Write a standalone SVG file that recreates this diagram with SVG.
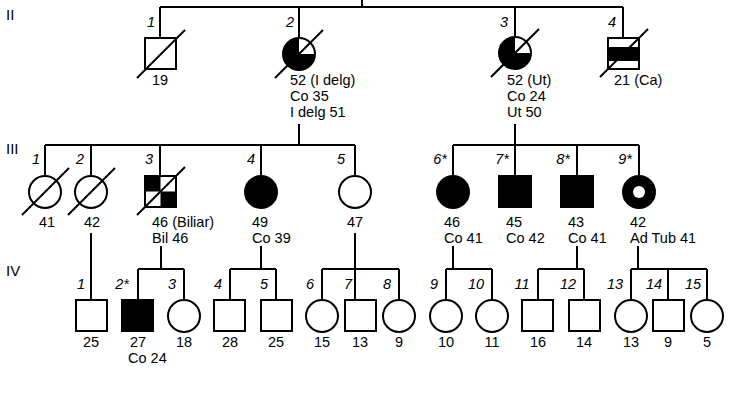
<svg xmlns="http://www.w3.org/2000/svg" width="730" height="400" viewBox="0 0 730 400">
<style>
text{font-family:"Liberation Sans",Arial,sans-serif;font-size:14.5px;fill:#000}
.n{font-style:italic;text-anchor:middle}
.c{text-anchor:middle}
.g{font-size:15px}
line,rect,circle,path{stroke:#000;stroke-width:2}
.o{fill:#fff}.f{fill:#000}
.ns{stroke:none}
</style>
<rect class="ns" width="730" height="400" fill="#fff"/>
<text class="g" x="6" y="20">II</text>
<text class="g" x="6" y="154">III</text>
<text class="g" x="6" y="276">IV</text>
<g id="connectors" fill="none">
<line x1="362" y1="0" x2="362" y2="7"/>
<line x1="160" y1="7" x2="623" y2="7"/>
<line x1="160" y1="7" x2="160" y2="38"/>
<line x1="299" y1="7" x2="299" y2="38"/>
<line x1="515" y1="7" x2="515" y2="37"/>
<line x1="623" y1="7" x2="623" y2="38"/>
<line x1="299" y1="124" x2="299" y2="145"/>
<line x1="45" y1="145" x2="355" y2="145"/>
<line x1="45" y1="145" x2="45" y2="176"/>
<line x1="91" y1="145" x2="91" y2="176"/>
<line x1="160" y1="145" x2="160" y2="176"/>
<line x1="261" y1="145" x2="261" y2="176"/>
<line x1="355" y1="145" x2="355" y2="176"/>
<line x1="515" y1="124" x2="515" y2="176"/>
<line x1="453" y1="145" x2="639" y2="145"/>
<line x1="453" y1="145" x2="453" y2="176"/>
<line x1="577" y1="145" x2="577" y2="176"/>
<line x1="639" y1="145" x2="639" y2="176"/>
<line x1="91" y1="233" x2="91" y2="300"/>
<line x1="161" y1="246" x2="161" y2="269"/>
<line x1="138" y1="269" x2="184" y2="269"/>
<line x1="138" y1="269" x2="138" y2="300"/>
<line x1="184" y1="269" x2="184" y2="300"/>
<line x1="261" y1="246" x2="261" y2="269"/>
<line x1="230" y1="269" x2="276" y2="269"/>
<line x1="230" y1="269" x2="230" y2="300"/>
<line x1="276" y1="269" x2="276" y2="300"/>
<line x1="355" y1="233" x2="355" y2="300"/>
<line x1="322" y1="269" x2="399" y2="269"/>
<line x1="322" y1="269" x2="322" y2="300"/>
<line x1="399" y1="269" x2="399" y2="300"/>
<line x1="453" y1="246" x2="453" y2="269"/>
<line x1="446" y1="269" x2="492" y2="269"/>
<line x1="446" y1="269" x2="446" y2="300"/>
<line x1="492" y1="269" x2="492" y2="300"/>
<line x1="577" y1="246" x2="577" y2="269"/>
<line x1="538" y1="269" x2="584" y2="269"/>
<line x1="538" y1="269" x2="538" y2="300"/>
<line x1="584" y1="269" x2="584" y2="300"/>
<line x1="638" y1="246" x2="638" y2="269"/>
<line x1="631" y1="269" x2="707" y2="269"/>
<line x1="631" y1="269" x2="631" y2="300"/>
<line x1="668" y1="269" x2="668" y2="300"/>
<line x1="707" y1="269" x2="707" y2="300"/>
</g>
<g id="II-1"><rect class="o" x="145" y="38" width="31" height="31"/><line x1="137" y1="78" x2="185" y2="30"/><text class="n" x="151" y="27">1</text><text class="c" x="160" y="85">19</text></g>
<g id="II-2"><circle class="f" cx="299" cy="54" r="16"/><path class="ns" d="M299,54 L299,39 A15,15 0 0 1 314,54 Z" fill="#fff"/><line x1="275" y1="78" x2="323" y2="30"/><text class="n" x="290" y="27">2</text><text x="290" y="85">52 (I delg)</text><text x="290" y="101">Co 35</text><text x="290" y="117">I delg 51</text></g>
<g id="II-3"><circle class="f" cx="515" cy="53" r="16"/><path class="ns" d="M515,53 L515,38 A15,15 0 0 1 530,53 Z" fill="#fff"/><line x1="491" y1="77" x2="539" y2="29"/><text class="n" x="504" y="27">3</text><text x="507" y="85">52 (Ut)</text><text x="507" y="101">Co 24</text><text x="507" y="117">Ut 50</text></g>
<g id="II-4"><rect class="o" x="608" y="38" width="31" height="31"/><rect class="f" x="608" y="48" width="31" height="12"/><line x1="600" y1="77" x2="648" y2="29"/><text class="n" x="612" y="27">4</text><text x="614" y="85">21 (Ca)</text></g>
<g id="III-1"><circle class="o" cx="45" cy="192" r="16"/><line x1="22" y1="215" x2="69" y2="168"/><text class="n" x="36" y="164">1</text><text class="c" x="47" y="227">41</text></g>
<g id="III-2"><circle class="o" cx="91" cy="192" r="16"/><line x1="68" y1="215" x2="115" y2="168"/><text class="n" x="80" y="164">2</text><text class="c" x="92" y="227">42</text></g>
<g id="III-3"><rect class="o" x="145" y="176" width="31" height="31"/><rect class="f ns" x="145" y="176" width="15.5" height="15.5"/><rect class="f ns" x="160.5" y="191.5" width="15.5" height="15.5"/><line x1="137" y1="215" x2="185" y2="167"/><text class="n" x="149" y="164">3</text><text x="152" y="227">46 (Biliar)</text><text x="152" y="243">Bil 46</text></g>
<g id="III-4"><circle class="f" cx="261" cy="192" r="16"/><text class="n" x="251" y="164">4</text><text x="252" y="227">49</text><text x="252" y="243">Co 39</text></g>
<g id="III-5"><circle class="o" cx="355" cy="192" r="16"/><text class="n" x="341" y="164">5</text><text class="c" x="355" y="227">47</text></g>
<g id="III-6"><circle class="f" cx="453" cy="192" r="16"/><text class="n" x="440" y="164">6*</text><text x="444" y="227">46</text><text x="444" y="243">Co 41</text></g>
<g id="III-7"><rect class="f" x="499" y="176" width="32" height="31"/><text class="n" x="502" y="164">7*</text><text x="506" y="227">45</text><text x="506" y="243">Co 42</text></g>
<g id="III-8"><rect class="f" x="561" y="176" width="32" height="31"/><text class="n" x="563" y="164">8*</text><text x="568" y="227">43</text><text x="568" y="243">Co 41</text></g>
<g id="III-9"><circle class="f" cx="639" cy="192" r="16"/><circle class="ns" cx="639" cy="192" r="6" fill="#fff"/><text class="n" x="625" y="164">9*</text><text x="630" y="227">42</text><text x="630" y="243">Ad Tub 41</text></g>
<g id="IV-1"><rect class="o" x="76" y="300" width="31" height="31"/><text class="n" x="81" y="289">1</text><text class="c" x="91" y="347">25</text></g>
<g id="IV-2"><rect class="f" x="122" y="300" width="31" height="31"/><text class="n" x="122" y="289">2*</text><text class="c" x="138" y="347">27</text><text x="128" y="363">Co 24</text></g>
<g id="IV-3"><circle class="o" cx="184" cy="316" r="16"/><text class="n" x="172" y="289">3</text><text class="c" x="184" y="347">18</text></g>
<g id="IV-4"><rect class="o" x="214" y="300" width="31" height="31"/><text class="n" x="218" y="289">4</text><text class="c" x="230" y="347">28</text></g>
<g id="IV-5"><rect class="o" x="261" y="300" width="31" height="31"/><text class="n" x="264" y="289">5</text><text class="c" x="276" y="347">25</text></g>
<g id="IV-6"><circle class="o" cx="322" cy="316" r="16"/><text class="n" x="310" y="289">6</text><text class="c" x="322" y="347">15</text></g>
<g id="IV-7"><rect class="o" x="345" y="300" width="31" height="31"/><text class="n" x="348" y="289">7</text><text class="c" x="360" y="347">13</text></g>
<g id="IV-8"><circle class="o" cx="399" cy="316" r="16"/><text class="n" x="387" y="289">8</text><text class="c" x="399" y="347">9</text></g>
<g id="IV-9"><circle class="o" cx="446" cy="316" r="16"/><text class="n" x="434" y="289">9</text><text class="c" x="446" y="347">10</text></g>
<g id="IV-10"><circle class="o" cx="492" cy="316" r="16"/><text class="n" x="476" y="289">10</text><text class="c" x="492" y="347">11</text></g>
<g id="IV-11"><rect class="o" x="522" y="300" width="31" height="31"/><text class="n" x="522" y="289">11</text><text class="c" x="538" y="347">16</text></g>
<g id="IV-12"><rect class="o" x="569" y="300" width="31" height="31"/><text class="n" x="568" y="289">12</text><text class="c" x="584" y="347">14</text></g>
<g id="IV-13"><circle class="o" cx="631" cy="316" r="16"/><text class="n" x="615" y="289">13</text><text class="c" x="631" y="347">13</text></g>
<g id="IV-14"><rect class="o" x="653" y="300" width="31" height="31"/><text class="n" x="654" y="289">14</text><text class="c" x="668" y="347">9</text></g>
<g id="IV-15"><circle class="o" cx="707" cy="316" r="16"/><text class="n" x="693" y="289">15</text><text class="c" x="707" y="347">5</text></g>
</svg>
